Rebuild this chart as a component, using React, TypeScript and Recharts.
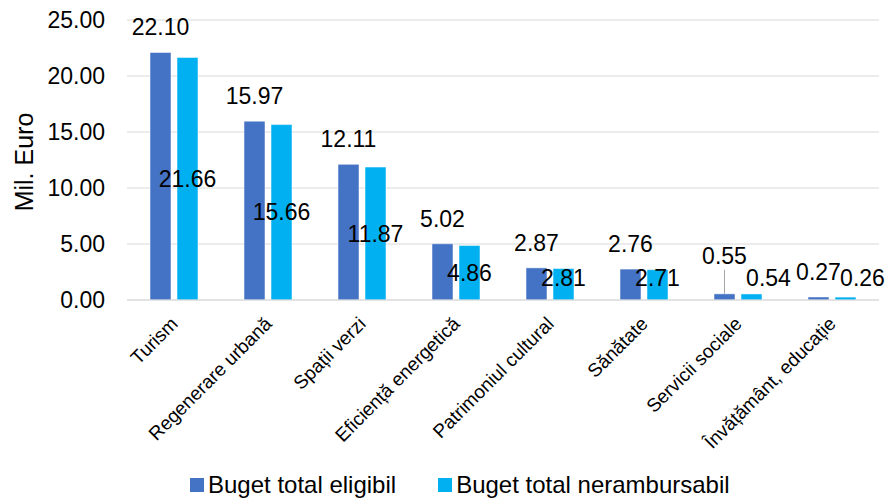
import React from 'react';
import { BarChart, Bar, XAxis, YAxis, CartesianGrid, Legend } from 'recharts';

const categories = [
  'Turism',
  'Regenerare urbană',
  'Spații verzi',
  'Eficiență energetică',
  'Patrimoniul cultural',
  'Sănătate',
  'Servicii sociale',
  'Învățământ, educație',
];
const eligibil = [22.1, 15.97, 12.11, 5.02, 2.87, 2.76, 0.55, 0.27];
const nerambursabil = [21.66, 15.66, 11.87, 4.86, 2.81, 2.71, 0.54, 0.26];
const yTicks = [0, 5, 10, 15, 20, 25];
const seriesNames = ['Buget total eligibil', 'Buget total nerambursabil'];
const colors = ['#4472C4', '#00B0F0'];

const data = categories.map((name, i) => ({
  name,
  eligibil: eligibil[i],
  nerambursabil: nerambursabil[i],
}));

const FONT = '"Liberation Sans", Arial, sans-serif';
const LIFTED = new Set(['Servicii sociale']);

const fmt = (v: number) => v.toFixed(2);

const EligLabel = (props: any) => {
  const { x, y, width, value, index } = props;
  const cx = x + width / 2;
  const lifted = LIFTED.has(categories[index]);
  const baseY = y - 17 - (lifted ? 13 : 0);
  return (
    <g>
      {lifted && (
        <line x1={cx} x2={cx} y1={baseY + 6} y2={y} stroke="#a6a6a6" strokeWidth={1} />
      )}
      <text x={cx} y={baseY} textAnchor="middle" fontFamily={FONT} fontSize={23} fill="#000">
        {fmt(value)}
      </text>
    </g>
  );
};

const NerLabel = (props: any) => {
  const { x, y, width, height, value } = props;
  const bottom = y + height;
  const cy = Math.min(y + height / 2, bottom - 22);
  const cx = x + width / 2 + (height < 10 ? 17 : 0);
  return (
    <text x={cx} y={cy + 8} textAnchor="middle" fontFamily={FONT} fontSize={23} fill="#000">
      {fmt(value)}
    </text>
  );
};

const CatTick = (props: any) => {
  const { x, y, payload } = props;
  const ax = x + 5;
  const ay = y + 23;
  return (
    <text
      x={ax}
      y={ay}
      textAnchor="end"
      transform={`rotate(-45, ${ax}, ${ay})`}
      fontFamily={FONT}
      fontSize={19}
      fill="#000"
    >
      {payload.value}
    </text>
  );
};

const YTitle = (props: any) => {
  const { viewBox } = props;
  const cx = viewBox.x + 24;
  const cy = viewBox.y + viewBox.height / 2 + 2;
  return (
    <text
      x={cx}
      y={cy}
      transform={`rotate(-90, ${cx}, ${cy})`}
      textAnchor="middle"
      dominantBaseline="central"
      fontFamily={FONT}
      fontSize={25}
      fill="#000"
    >
      Mil. Euro
    </text>
  );
};

const LegendContent = () => (
  <div
    style={{
      display: 'flex',
      alignItems: 'center',
      height: 30,
      paddingLeft: 190,
      paddingTop: 4,
      boxSizing: 'border-box',
      fontFamily: FONT,
      fontSize: 24,
      color: '#000',
    }}
  >
    {seriesNames.map((n, i) => (
      <div key={n} style={{ display: 'flex', alignItems: 'center', marginLeft: i === 0 ? 0 : 42 }}>
        <span style={{ width: 14, height: 14, background: colors[i], display: 'inline-block', marginRight: 4 }} />
        <span>{n}</span>
      </div>
    ))}
  </div>
);

export default function App() {
  return (
    <div style={{ position: 'absolute', left: 0, top: 0, width: 893, height: 498, background: '#fff' }}>
      <BarChart
        width={893}
        height={498}
        data={data}
        margin={{ top: 20, right: 14, left: 0, bottom: 0 }}
        barSize={21}
        barGap={6}
      >
        <CartesianGrid vertical={false} stroke="#d9d9d9" strokeWidth={1} />
        <XAxis
          dataKey="name"
          interval={0}
          tickSize={0}
          tickLine={false}
          axisLine={{ stroke: '#d9d9d9', strokeWidth: 1 }}
          height={168}
          tick={<CatTick />}
        />
        <YAxis
          domain={[0, 25]}
          ticks={yTicks}
          width={127}
          axisLine={false}
          tickLine={false}
          tickSize={0}
          tickMargin={22}
          tickFormatter={fmt}
          tick={{ fontFamily: FONT, fontSize: 23, fill: '#000' }}
          label={<YTitle />}
        />
        <Legend verticalAlign="bottom" align="left" wrapperStyle={{ left: 0, width: 893 }} content={<LegendContent />} />
        <Bar
          dataKey="eligibil"
          name={seriesNames[0]}
          fill={colors[0]}
          stroke="#ffffff"
          strokeOpacity={0.5}
          isAnimationActive={false}
          label={<EligLabel />}
        />
        <Bar
          dataKey="nerambursabil"
          name={seriesNames[1]}
          fill={colors[1]}
          stroke="#ffffff"
          strokeOpacity={0.5}
          isAnimationActive={false}
          label={<NerLabel />}
        />
      </BarChart>
    </div>
  );
}
